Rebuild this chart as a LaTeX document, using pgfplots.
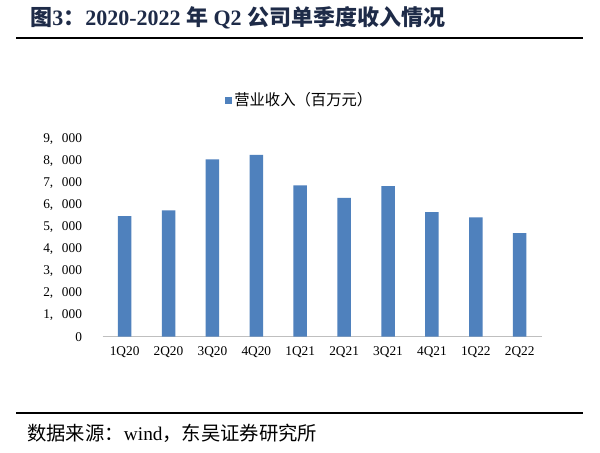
\documentclass[border=0pt]{standalone}
\usepackage{fontspec}
\usepackage{pgfplots}
\pgfplotsset{compat=1.18}
\setmainfont{Liberation Serif}
\newfontfamily\cjk{Noto Sans CJK SC}
\definecolor{barblue}{HTML}{4F81BD}
\definecolor{titlenavy}{HTML}{1E2B48}
\newcommand{\cs}{,\hspace{6.5pt}}
\begin{document}
\begin{tikzpicture}[x=1pt,y=1pt]
\path[fill=white] (0,0) rectangle (450,339.75);
% title
\node[anchor=west,inner sep=0,text=titlenavy,font=\fontsize{16.5}{18}\selectfont\bfseries] at (22.5,326.25)
 {{\cjk 图}3{\cjk ：}2020-2022 {\cjk 年} Q2 {\cjk 公司单季度收入情况}};
\draw[line width=1.6pt] (12,311.25) -- (437.25,311.25);
\draw[line width=1.4pt] (12,30) -- (437.25,30);
\node[anchor=west,inner sep=0,font=\fontsize{14.5}{16}\selectfont] at (20.25,15)
 {{\cjk 数据来源：}wind{\cjk ，东吴证券研究所}};
\begin{axis}[
 at={(77.0pt,87.2pt)}, anchor=south west,
 scale only axis, width=329.25pt, height=148pt,
 ymin=0, ymax=9000, xmin=-0.5, xmax=9.5,
 ybar, bar width=10.1pt,
 axis x line*=bottom, axis y line*=left,
 x axis line style={draw=black!25, line width=0.8pt},
 y axis line style={draw=none},
 xtick=data, xticklabels={1Q20,2Q20,3Q20,4Q20,1Q21,2Q21,3Q21,4Q21,1Q22,2Q22},
 ytick={0,1000,2000,3000,4000,5000,6000,7000,8000,9000},
 yticklabels={0,1\cs000,2\cs000,3\cs000,4\cs000,5\cs000,6\cs000,7\cs000,8\cs000,9\cs000},
 major tick length=0pt,
 tick label style={font=\fontsize{10}{12}\selectfont},
 xticklabel style={yshift=-4pt},
 yticklabel style={anchor=east,xshift=-12pt},
 /pgf/number format/assume math mode=true,
 legend style={at={(0.449,1.199)}, anchor=center, draw=none, fill=none,
   font=\fontsize{11.5}{13}\selectfont\cjk, inner sep=0pt},
 legend image code/.code={\fill[barblue] (0pt,-2.6pt) rectangle (5.2pt,2.6pt);},
 clip=false,
]
\addplot[fill=barblue, draw=none] coordinates {
 (0,5504) (1,5764) (2,8089) (3,8299) (4,6904) (5,6338) (6,6872) (7,5686) (8,5444) (9,4729)};
\addlegendentry{营业收入（百万元）}
\end{axis}
\end{tikzpicture}
\end{document}
